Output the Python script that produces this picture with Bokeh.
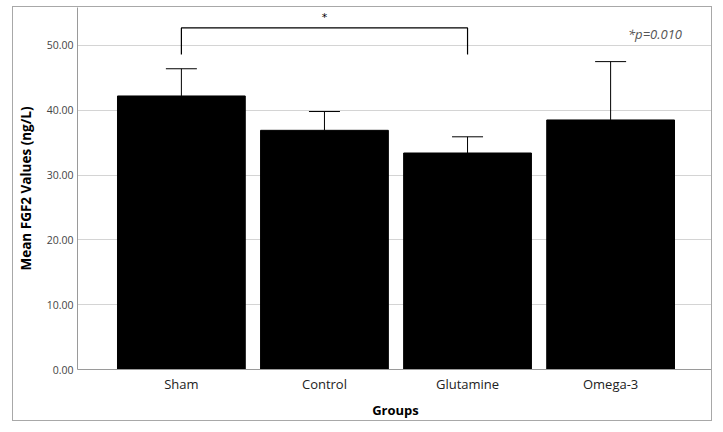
from bokeh.plotting import figure
from bokeh.models import Range1d, FixedTicker, Whisker, TeeHead, ColumnDataSource, Label
from bokeh.embed import file_html
from bokeh.resources import INLINE

# Mean FGF2 per group with upper error bar end (ng/L)
groups = ["Sham", "Control", "Glutamine", "Omega-3"]
means = [42.2, 36.9, 33.4, 38.5]
upper = [46.4, 39.8, 35.9, 47.5]
y_ticks = [0, 10, 20, 30, 40, 50]
y_tick_labels = ["0.00", "10.00", "20.00", "30.00", "40.00", "50.00"]

# significance bracket between Sham and Glutamine
bracket_groups = ["Sham", "Glutamine"]
bracket_low = 48.6
bracket_high = 52.7
p_text = "*p=0.010"

xs = [i + 1 for i in range(len(groups))]
src = ColumnDataSource(dict(x=xs, mean=means, upper=upper))

p = figure(width=700, height=415, output_backend="svg", toolbar_location=None,
           x_range=Range1d(0.274, 4.719), y_range=Range1d(0, 55.85),
           min_border_left=62, min_border_right=0, min_border_top=0, min_border_bottom=53,
           margin=(6, 0, 0, 12))
p.styles = {"border": "1px solid #a8a8a8"}
p.outline_line_color = None
p.background_fill_color = "white"
p.border_fill_color = "white"

p.vbar(x="x", top="mean", bottom=0, width=0.893, source=src,
       fill_color="black", line_color="black")

p.add_layout(Whisker(base="x", lower="mean", upper="upper", source=src,
                     line_color="black", line_width=1,
                     upper_head=TeeHead(size=31, line_color="black", line_width=1),
                     lower_head=None))

# bracket and star
bx0 = xs[groups.index(bracket_groups[0])]
bx1 = xs[groups.index(bracket_groups[1])]
p.line(x=[bx0, bx0, bx1, bx1], y=[bracket_low, bracket_high, bracket_high, bracket_low],
       line_color="black", line_width=1.2)
p.add_layout(Label(x=(bx0 + bx1) / 2, y=bracket_high + 0.6, text="*", text_align="center",
                   text_baseline="bottom", text_font="DejaVu Sans", text_font_size="11px",
                   text_color="black"))
p.add_layout(Label(x=4.31, y=51.8, text=p_text, text_align="center", text_baseline="middle",
                   text_font="Open Sans", text_font_style="italic", text_font_size="13px",
                   text_color="#555555"))

# axes
p.xaxis.ticker = FixedTicker(ticks=xs)
p.xaxis.major_label_overrides = {x: g for x, g in zip(xs, groups)}
p.yaxis.ticker = FixedTicker(ticks=y_ticks)
p.yaxis.major_label_overrides = {t: l for t, l in zip(y_ticks, y_tick_labels)}

for ax in (p.xaxis[0], p.yaxis[0]):
    ax.axis_line_color = "#9a9a9a"
    ax.axis_line_width = 1
    ax.major_tick_line_color = None
    ax.minor_tick_line_color = None
    ax.major_tick_out = 0
    ax.major_tick_in = 0
    ax.axis_label_text_font = "Open Sans"
    ax.axis_label_text_font_style = "bold"
    ax.axis_label_text_color = "black"
    ax.major_label_text_font = "Open Sans"

p.yaxis.axis_label = "Mean FGF2 Values (ng/L)"
p.yaxis.axis_label_text_font_size = "13.5px"
p.yaxis.major_label_text_font_size = "10.5px"
p.yaxis.major_label_text_color = "#444444"
p.yaxis.major_label_standoff = 4
p.yaxis.axis_label_standoff = 9

p.xaxis.axis_label = "Groups"
p.xaxis.axis_label_text_font_size = "13px"
p.xaxis.major_label_text_font_size = "13px"
p.xaxis.major_label_text_color = "#222222"
p.xaxis.major_label_standoff = 5
p.xaxis.axis_label_standoff = 5

p.xgrid.grid_line_color = None
p.ygrid.grid_line_color = "#d4d4d4"
p.ygrid.grid_line_width = 1

open("out.html", "w").write(file_html(p, INLINE))
